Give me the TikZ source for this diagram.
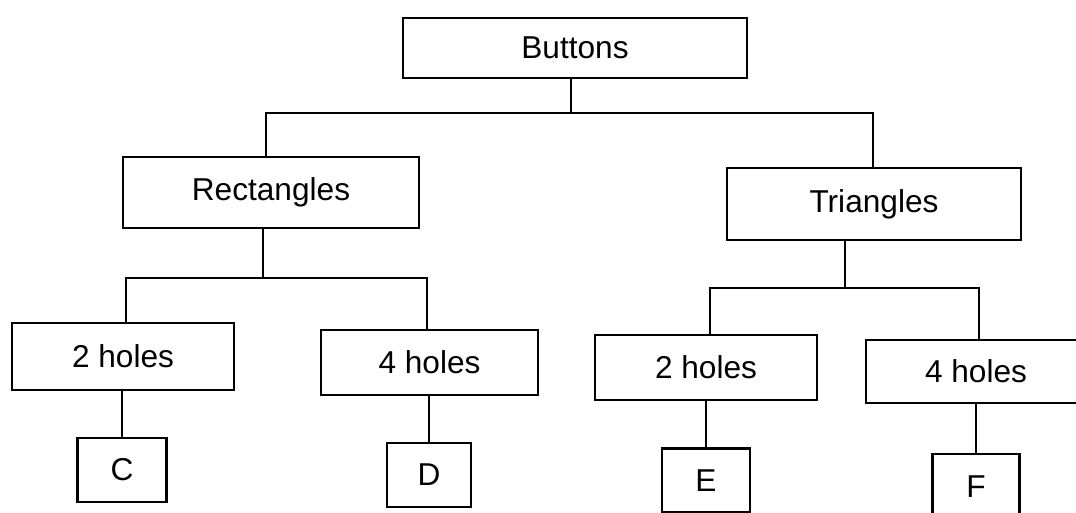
\documentclass[tikz,border=0pt]{standalone}
\usepackage{fontspec}
\setmainfont{Liberation Sans}
\begin{document}
\begin{tikzpicture}[x=0.02cm,y=-0.02cm,
  box/.style={draw, line width=1.2pt, inner sep=0pt, font=\fontsize{18}{21}\selectfont},
  conn/.style={line width=1.2pt}]
\useasboundingbox (0,0) rectangle (1076,513);
\clip (0,0) rectangle (1076,513);
\fill[white] (0,0) rectangle (1076,513);
% nodes
\node[box, minimum width=6.88cm, minimum height=1.20cm] (but) at (575,48) {Buttons};
\node[box, minimum width=5.92cm, minimum height=1.42cm] (rect) at (271,192.5) {Rectangles};
\node[box, minimum width=5.88cm, minimum height=1.44cm] (tri) at (874,204) {Triangles};
\node[box, minimum width=4.44cm, minimum height=1.34cm] (h2a) at (123,356.5) {2 holes};
\node[box, minimum width=4.34cm, minimum height=1.30cm] (h4a) at (429.5,362.5) {4 holes};
\node[box, minimum width=4.44cm, minimum height=1.30cm] (h2b) at (706,367.5) {2 holes};
\node[box, minimum width=4.40cm, minimum height=1.26cm] (h4b) at (976,371.5) {4 holes};
\node[box, minimum width=1.78cm, minimum height=1.28cm] (c) at (122,470) {C};
\node[box, minimum width=1.68cm, minimum height=1.28cm] (d) at (429,475) {D};
\node[box, minimum width=1.76cm, minimum height=1.28cm] (e) at (706,480.5) {E};
\node[box, minimum width=1.74cm, minimum height=1.32cm] (f) at (976,487) {F};
% junction coordinates
\coordinate (j0) at (571,113);
\coordinate (b1l) at (266,113);
\coordinate (b1r) at (873,113);
\coordinate (j1) at (263,278);
\coordinate (b2l) at (126,278);
\coordinate (b2r) at (427,278);
\coordinate (j2) at (845,288);
\coordinate (b3l) at (710,288);
\coordinate (b3r) at (979,288);
% connectors
\draw[conn] (but.south -| j0) -- (j0);
\draw[conn] (rect.north -| b1l) |- (b1r) -- (tri.north -| b1r);
\draw[conn] (rect.south -| j1) -- (j1);
\draw[conn] (h2a.north -| b2l) |- (b2r) -- (h4a.north -| b2r);
\draw[conn] (tri.south -| j2) -- (j2);
\draw[conn] (h2b.north -| b3l) |- (b3r) -- (h4b.north -| b3r);
\draw[conn] (h2a.south -| c.north) -- (c.north);
\draw[conn] (h4a.south -| d.north) -- (d.north);
\draw[conn] (h2b.south -| e.north) -- (e.north);
\draw[conn] (h4b.south -| f.north) -- (f.north);
\end{tikzpicture}
\end{document}
